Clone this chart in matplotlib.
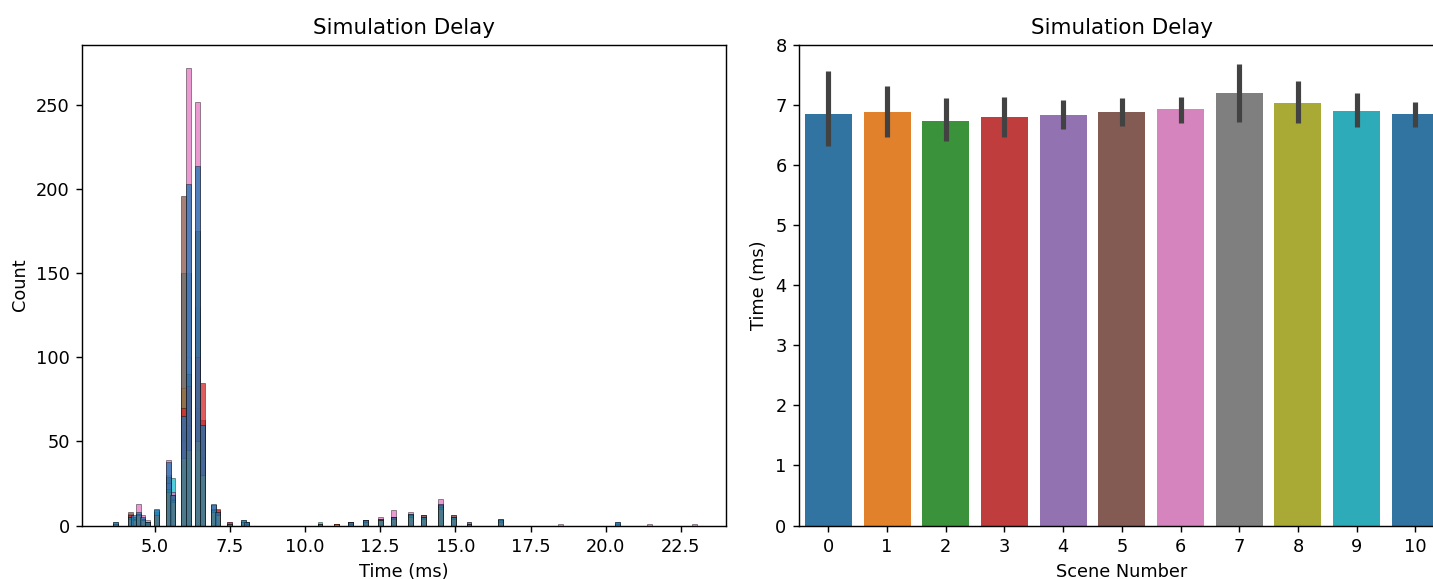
import colorsys
import matplotlib
matplotlib.use("Agg")
import matplotlib.pyplot as plt
from matplotlib.colors import to_rgb

# histogram bins (centres, ms) and counts per scene
bin_times = [3.7, 4.2, 4.3, 4.45, 4.6, 4.75, 5.05, 5.45, 5.6, 5.96, 6.12, 6.42, 6.58,
             6.95, 7.1, 7.5, 7.95, 8.05, 10.5, 11.05, 11.5, 12.0, 12.5, 12.95, 13.5,
             13.95, 14.5, 14.95, 15.45, 16.5, 18.5, 20.4, 21.45, 22.95]
bin_w = 0.16

scene0 = [2, 5, 6, 8, 5, 2, 10, 38, 18, 65, 203, 214, 60, 13, 8, 1, 3, 2, 1, 0, 2, 3, 3, 5, 7, 5, 13, 5, 1, 4, 0, 2, 0, 0]
scene1 = [1, 4, 3, 6, 3, 1, 6, 20, 14, 40, 45, 50, 30, 8, 6, 1, 2, 1, 1, 1, 1, 2, 3, 4, 5, 4, 10, 4, 1, 2, 0, 0, 0, 0]
scene2 = [1, 5, 4, 5, 3, 2, 5, 22, 15, 35, 40, 45, 30, 9, 6, 1, 2, 1, 1, 0, 1, 2, 3, 4, 6, 5, 11, 5, 1, 3, 0, 0, 0, 0]
scene3 = [1, 6, 3, 6, 4, 2, 4, 16, 18, 70, 83, 100, 85, 8, 10, 2, 2, 1, 1, 1, 2, 2, 4, 5, 6, 5, 12, 5, 1, 3, 0, 0, 0, 0]
scene4 = [1, 5, 4, 7, 3, 1, 6, 25, 15, 50, 60, 70, 40, 10, 7, 1, 2, 1, 1, 0, 1, 2, 3, 5, 6, 5, 12, 5, 2, 3, 0, 0, 0, 0]
scene5 = [1, 8, 5, 7, 4, 2, 5, 29, 16, 196, 90, 175, 63, 9, 8, 1, 2, 2, 1, 1, 2, 3, 4, 5, 7, 6, 12, 6, 1, 3, 0, 0, 0, 0]
scene6 = [1, 7, 4, 13, 6, 3, 6, 39, 20, 20, 272, 252, 40, 12, 9, 2, 2, 2, 1, 1, 2, 3, 5, 9, 8, 6, 16, 6, 2, 3, 1, 0, 1, 1]
scene7 = [1, 4, 3, 5, 3, 1, 5, 18, 12, 55, 50, 60, 35, 7, 6, 1, 1, 1, 1, 0, 1, 2, 3, 4, 5, 4, 10, 4, 1, 2, 0, 0, 0, 0]
scene8 = [1, 4, 3, 5, 3, 2, 4, 20, 14, 82, 60, 110, 40, 8, 5, 1, 2, 1, 1, 0, 1, 2, 3, 4, 5, 5, 11, 4, 1, 2, 0, 0, 0, 0]
scene9 = [2, 5, 5, 6, 4, 2, 9, 21, 28, 150, 100, 126, 45, 12, 8, 1, 3, 2, 2, 1, 2, 3, 4, 5, 7, 6, 13, 5, 1, 4, 0, 1, 0, 0]
scene10 = [1, 5, 4, 6, 4, 2, 8, 30, 16, 65, 150, 130, 60, 10, 7, 1, 2, 1, 1, 0, 2, 3, 3, 4, 6, 5, 12, 5, 1, 3, 0, 2, 0, 0]
hist_counts = [scene0, scene1, scene2, scene3, scene4, scene5, scene6,
               scene7, scene8, scene9, scene10]

# mean delay per scene with CI
scenes = [0, 1, 2, 3, 4, 5, 6, 7, 8, 9, 10]
mean_ms = [6.85, 6.88, 6.73, 6.79, 6.83, 6.88, 6.92, 7.20, 7.03, 6.90, 6.85]
ci_low = [6.31, 6.47, 6.39, 6.46, 6.59, 6.65, 6.69, 6.71, 6.69, 6.63, 6.63]
ci_high = [7.56, 7.31, 7.11, 7.13, 7.08, 7.11, 7.13, 7.68, 7.40, 7.20, 7.05]

tab10 = plt.get_cmap("tab10").colors
palette = [tab10[i % 10] for i in range(len(scenes))]


def desat(c, prop=0.75):
    h, l, s = colorsys.rgb_to_hls(*to_rgb(c))
    return colorsys.hls_to_rgb(h, l, s * prop)


fig = plt.figure(figsize=(1433 / 128, 579 / 128), dpi=128)
ax1 = fig.add_axes([0.0574, 0.0924, 0.4490, 0.8307])
ax2 = fig.add_axes([0.5576, 0.0924, 0.4505, 0.8307])

# layered histogram, first scene on top
for i in reversed(range(len(hist_counts))):
    ax1.bar(bin_times, hist_counts[i], width=bin_w, color=palette[i], alpha=0.75,
            edgecolor="black", linewidth=0.3)
ax1.set_xlim(2.59, 23.99)
ax1.set_ylim(0, 286)
ax1.set_title("Simulation Delay")
ax1.set_xlabel("Time (ms)")
ax1.set_ylabel("Count")

ax2.bar(scenes, mean_ms, width=0.8, color=[desat(c) for c in palette])
ax2.vlines(scenes, ci_low, ci_high, color=".26", linewidth=2.9)
ax2.set_xlim(-0.5, 10.5)
ax2.set_ylim(0, 8)
ax2.set_xticks(scenes)
ax2.set_title("Simulation Delay")
ax2.set_xlabel("Scene Number")
ax2.set_ylabel("Time (ms)")

fig.savefig("out.png", dpi=128)
